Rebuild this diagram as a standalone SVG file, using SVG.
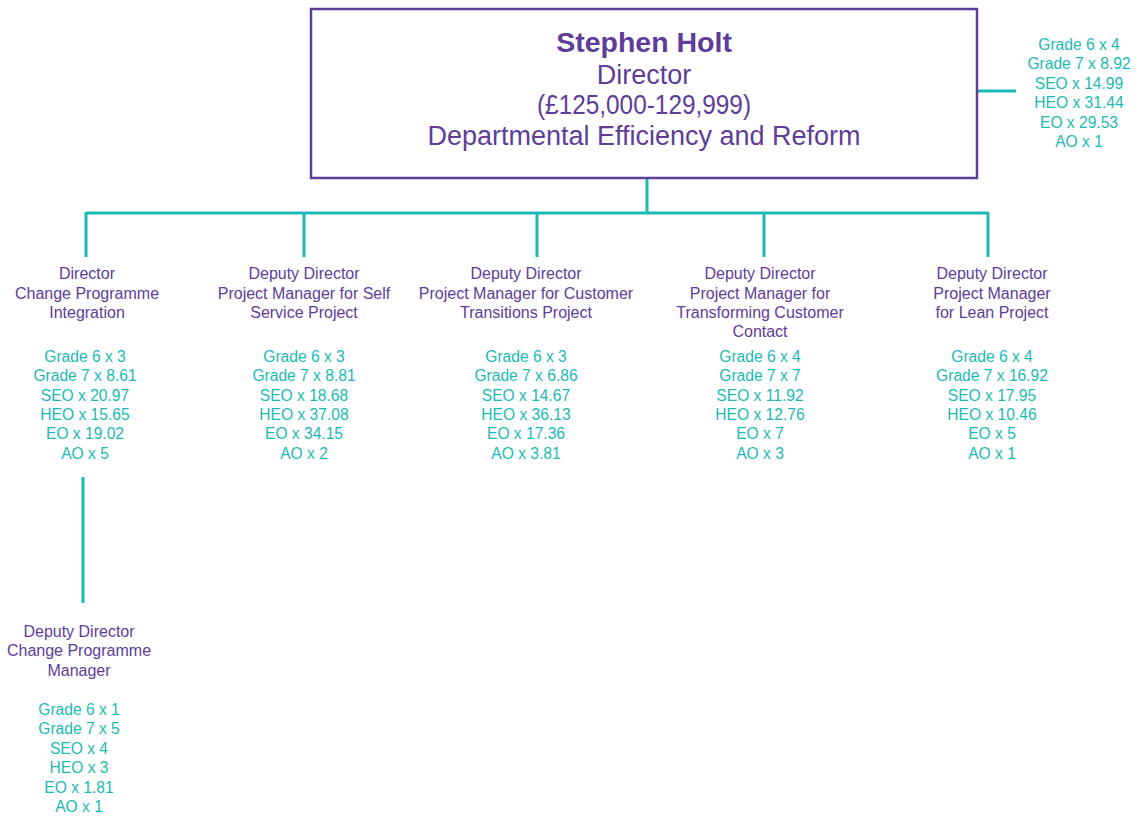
<svg xmlns="http://www.w3.org/2000/svg" width="1139" height="816" viewBox="0 0 1139 816">
<style>
.h{font-family:"Liberation Sans",Arial,sans-serif;font-size:16px;fill:#5e3d99;text-anchor:middle}
.t{font-family:"Liberation Sans",Arial,sans-serif;font-size:15.6px;fill:#1cbab3;text-anchor:middle}
.c{stroke:#1cbab3;stroke-width:3;fill:none}
.title{font-family:"Liberation Sans",Arial,sans-serif;fill:#5e3d99;text-anchor:middle}
</style>
<rect width="1139" height="816" fill="#fff"/>
<g id="connectors">
<path class="c" d="M647 178V213M86 213H988M86 212V257M304 212V257M537 212V257M764 212V257M988 212V257M977 91H1016M83 477V603"/>
</g>
<g id="node-root">
<rect x="311" y="9" width="666" height="169" fill="#fff" stroke="#5e3d99" stroke-width="2.5"/>
<text class="title" x="644" y="52" font-size="28.5" font-weight="bold">Stephen Holt</text>
<text class="title" x="644" y="84" font-size="27">Director</text>
<text class="title" x="644" y="114" font-size="27" textLength="214" lengthAdjust="spacingAndGlyphs">(£125,000-129,999)</text>
<text class="title" x="644" y="145" font-size="27">Departmental Efficiency and Reform</text>
</g>
<g id="node-root-staff">
<text class="t" x="1079" y="50">Grade 6 x 4</text>
<text class="t" x="1079" y="69">Grade 7 x 8.92</text>
<text class="t" x="1079" y="89">SEO x 14.99</text>
<text class="t" x="1079" y="108">HEO x 31.44</text>
<text class="t" x="1079" y="128">EO x 29.53</text>
<text class="t" x="1079" y="147">AO x 1</text>
</g>
<g id="node-cpi">
<text class="h" x="87" y="279">Director</text>
<text class="h" x="87" y="299">Change Programme</text>
<text class="h" x="87" y="318">Integration</text>
<text class="t" x="85" y="362">Grade 6 x 3</text>
<text class="t" x="85" y="381">Grade 7 x 8.61</text>
<text class="t" x="85" y="401">SEO x 20.97</text>
<text class="t" x="85" y="420">HEO x 15.65</text>
<text class="t" x="85" y="439">EO x 19.02</text>
<text class="t" x="85" y="459">AO x 5</text>
</g>
<g id="node-self">
<text class="h" x="304" y="279">Deputy Director</text>
<text class="h" x="304" y="299">Project Manager for Self</text>
<text class="h" x="304" y="318">Service Project</text>
<text class="t" x="304" y="362">Grade 6 x 3</text>
<text class="t" x="304" y="381">Grade 7 x 8.81</text>
<text class="t" x="304" y="401">SEO x 18.68</text>
<text class="t" x="304" y="420">HEO x 37.08</text>
<text class="t" x="304" y="439">EO x 34.15</text>
<text class="t" x="304" y="459">AO x 2</text>
</g>
<g id="node-transitions">
<text class="h" x="526" y="279">Deputy Director</text>
<text class="h" x="526" y="299">Project Manager for Customer</text>
<text class="h" x="526" y="318">Transitions Project</text>
<text class="t" x="526" y="362">Grade 6 x 3</text>
<text class="t" x="526" y="381">Grade 7 x 6.86</text>
<text class="t" x="526" y="401">SEO x 14.67</text>
<text class="t" x="526" y="420">HEO x 36.13</text>
<text class="t" x="526" y="439">EO x 17.36</text>
<text class="t" x="526" y="459">AO x 3.81</text>
</g>
<g id="node-contact">
<text class="h" x="760" y="279">Deputy Director</text>
<text class="h" x="760" y="299">Project Manager for</text>
<text class="h" x="760" y="318">Transforming Customer</text>
<text class="h" x="760" y="337">Contact</text>
<text class="t" x="760" y="362">Grade 6 x 4</text>
<text class="t" x="760" y="381">Grade 7 x 7</text>
<text class="t" x="760" y="401">SEO x 11.92</text>
<text class="t" x="760" y="420">HEO x 12.76</text>
<text class="t" x="760" y="439">EO x 7</text>
<text class="t" x="760" y="459">AO x 3</text>
</g>
<g id="node-lean">
<text class="h" x="992" y="279">Deputy Director</text>
<text class="h" x="992" y="299">Project Manager</text>
<text class="h" x="992" y="318">for Lean Project</text>
<text class="t" x="992" y="362">Grade 6 x 4</text>
<text class="t" x="992" y="381">Grade 7 x 16.92</text>
<text class="t" x="992" y="401">SEO x 17.95</text>
<text class="t" x="992" y="420">HEO x 10.46</text>
<text class="t" x="992" y="439">EO x 5</text>
<text class="t" x="992" y="459">AO x 1</text>
</g>
<g id="node-cpm">
<text class="h" x="79" y="637">Deputy Director</text>
<text class="h" x="79" y="656">Change Programme</text>
<text class="h" x="79" y="676">Manager</text>
<text class="t" x="79" y="715">Grade 6 x 1</text>
<text class="t" x="79" y="734">Grade 7 x 5</text>
<text class="t" x="79" y="754">SEO x 4</text>
<text class="t" x="79" y="773">HEO x 3</text>
<text class="t" x="79" y="793">EO x 1.81</text>
<text class="t" x="79" y="812">AO x 1</text>
</g>
</svg>
